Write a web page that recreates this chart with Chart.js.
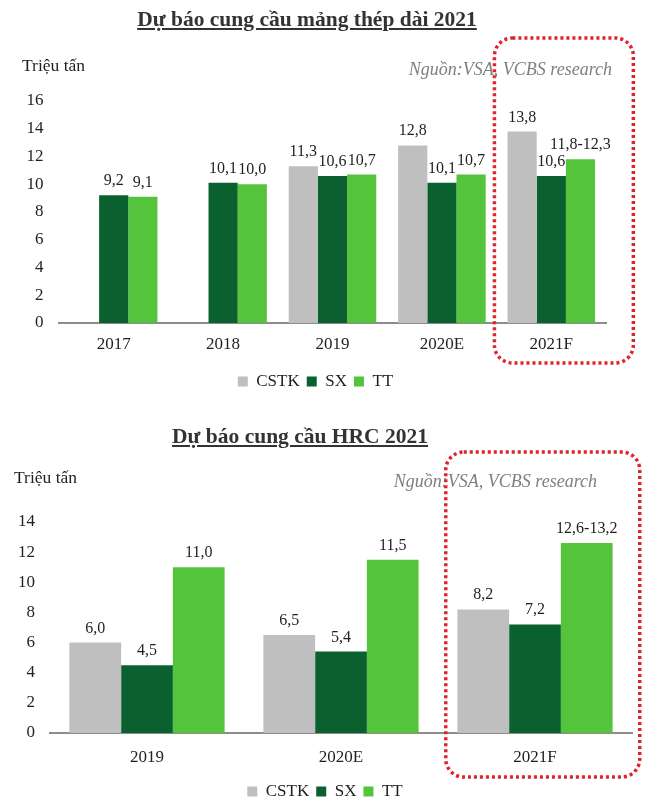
<!DOCTYPE html>
<html>
<head>
<meta charset="utf-8">
<script src="https://cdn.jsdelivr.net/npm/chart.js@4"></script>
<style>
  body { margin: 0; background: #fff; width: 668px; height: 810px; position: relative; overflow: hidden;
         font-family: "Liberation Serif", "Times New Roman", serif; color: #1f1f1f; }
  canvas { position: absolute; left: 0; }
  .txt { position: absolute; white-space: nowrap; }
  .title { font-weight: bold; font-size: 21.5px; text-decoration: underline; color: #333; text-align: center; }
  .unit { font-size: 17.5px; }
  .src { font-size: 18px; font-style: italic; color: #7f7f7f; text-align: right; }
</style>
</head>
<body>
<canvas id="longChart" width="668" height="400" style="top:0"></canvas>
<canvas id="hrcChart" width="668" height="410" style="top:400px"></canvas>

<div class="txt title" style="left:0;width:614px;top:7px">Dự báo cung cầu mảng thép dài 2021</div>
<div class="txt unit" style="left:22px;top:55px">Triệu tấn</div>
<div class="txt src" style="left:300px;width:312px;top:59px">Nguồn:VSA, VCBS research</div>

<div class="txt title" style="left:0;width:600px;top:424px">Dự báo cung cầu HRC 2021</div>
<div class="txt unit" style="left:14px;top:467px">Triệu tấn</div>
<div class="txt src" style="left:285px;width:312px;top:471px">Nguồn:VSA, VCBS research</div>

<script>
// series names and colours
const seriesNames = ['CSTK', 'SX', 'TT'];
const seriesColors = ['#bfbfbf', '#0b6030', '#53c43b'];

// long steel (thép dài), million tonnes
const longYears = ['2017', '2018', '2019', '2020E', '2021F'];
const longCSTK = [null, null, 11.3, 12.8, 13.8];
const longSX = [9.2, 10.1, 10.6, 10.1, 10.6];
const longTT = [9.1, 10.0, 10.7, 10.7, 11.8];
const longTTLabels = [null, null, null, null, '11,8-12,3'];

// HRC, million tonnes
const hrcYears = ['2019', '2020E', '2021F'];
const hrcCSTK = [6.0, 6.5, 8.2];
const hrcSX = [4.5, 5.4, 7.2];
const hrcTT = [11.0, 11.5, 12.6];
const hrcTTLabels = [null, null, '12,6-13,2'];

const serif = '"Liberation Serif", "Times New Roman", serif';

// value labels above each bar, comma as decimal mark
const barLabels = {
  id: 'barLabels',
  afterDatasetsDraw(chart) {
    const ctx = chart.ctx;
    ctx.save();
    ctx.font = '16px ' + serif;
    ctx.fillStyle = '#1f1f1f';
    ctx.textAlign = 'center';
    ctx.textBaseline = 'alphabetic';
    chart.data.datasets.forEach((ds, i) => {
      chart.getDatasetMeta(i).data.forEach((bar, j) => {
        const v = ds.data[j];
        if (v == null) return;
        const txt = (ds.customLabels && ds.customLabels[j]) || v.toFixed(1).replace('.', ',');
        ctx.fillText(txt, bar.x, bar.y - 10);
      });
    });
    ctx.restore();
  }
};

// red dotted frame around the forecast year
const forecastBox = {
  id: 'forecastBox',
  afterDraw(chart, args, opts) {
    const x = chart.scales.x;
    const last = chart.data.labels.length - 1;
    const cw = x.width / chart.data.labels.length;
    const cx = x.getPixelForValue(last);
    const l = cx + opts.from * cw, r = cx + opts.to * cw;
    const ctx = chart.ctx;
    ctx.save();
    ctx.strokeStyle = '#e0232b';
    ctx.lineWidth = 3.5;
    ctx.setLineDash([3, 3]);
    ctx.beginPath();
    ctx.roundRect(l, opts.top, r - l, opts.bottom - opts.top, 18);
    ctx.stroke();
    ctx.restore();
  }
};

function makeChart(id, labels, cstk, sx, tt, ttLabels, cfg) {
  return new Chart(document.getElementById(id), {
    type: 'bar',
    data: {
      labels: labels,
      datasets: [
        { label: seriesNames[0], data: cstk, backgroundColor: seriesColors[0] },
        { label: seriesNames[1], data: sx, backgroundColor: seriesColors[1] },
        { label: seriesNames[2], data: tt, backgroundColor: seriesColors[2], customLabels: ttLabels }
      ]
    },
    options: {
      responsive: false,
      animation: false,
      devicePixelRatio: 1,
      datasets: { bar: { categoryPercentage: 0.8, barPercentage: 1.0, borderWidth: 0 } },
      layout: { padding: cfg.padding },
      scales: {
        x: {
          grid: { display: false, drawTicks: false },
          border: { display: true, color: '#8c8c8c', width: 2 },
          ticks: { font: { family: serif, size: 17 }, color: '#1f1f1f', padding: cfg.xPad },
          afterFit(s) { s.height = cfg.xHeight; }
        },
        y: {
          min: 0, max: cfg.max,
          grid: { display: false, drawTicks: false },
          border: { display: false },
          ticks: { stepSize: 2, font: { family: serif, size: 17 }, color: '#1f1f1f', crossAlign: 'near', padding: cfg.yPad },
          afterFit(s) { s.width = cfg.yWidth; }
        }
      },
      plugins: {
        legend: {
          position: 'bottom',
          labels: { boxWidth: 10, boxHeight: 10, padding: 7, color: '#1f1f1f', font: { family: serif, size: 17 } }
        },
        tooltip: { enabled: false },
        forecastBox: cfg.box
      }
    },
    plugins: [barLabels, forecastBox]
  });
}

makeChart('longChart', longYears, longCSTK, longSX, longTT, longTTLabels, {
  max: 16,
  padding: { left: 25, right: 62, top: 101, bottom: 0 },
  yWidth: 34, yPad: 15.5, xHeight: 43, xPad: 11,
  box: { from: -0.52, to: 0.75, top: 38, bottom: 363 }
});

makeChart('hrcChart', hrcYears, hrcCSTK, hrcSX, hrcTT, hrcTTLabels, {
  max: 14,
  padding: { left: 18, right: 36, top: 122, bottom: 0 },
  yWidth: 32, yPad: 15, xHeight: 43, xPad: 14,
  box: { from: -0.46, to: 0.54, top: 52, bottom: 377 }
});
</script>
</body>
</html>
